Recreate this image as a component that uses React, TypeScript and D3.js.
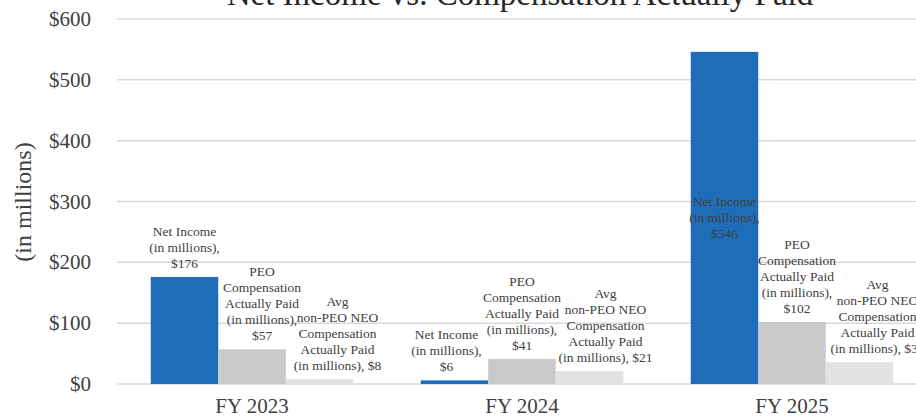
import React from "react";
import * as d3 from "d3";

const categories = ["FY 2023", "FY 2024", "FY 2025"];
const seriesNames = ["Net Income", "PEO CAP", "Avg non-PEO NEO CAP"];
const netIncome = [176, 6, 546];
const peoCap = [57, 41, 102];
const avgNeoCap = [8, 21, 36];
const yTicks = [0, 100, 200, 300, 400, 500, 600];
const title = "Net Income vs. Compensation Actually Paid";
const yAxisTitle = "(in millions)";

const seriesValues = [netIncome, peoCap, avgNeoCap];
const labelLines = [
  (v: number) => ["Net Income", "(in millions),", `$${v}`],
  (v: number) => ["PEO", "Compensation", "Actually Paid", "(in millions),", `$${v}`],
  (v: number) => ["Avg", "non-PEO NEO", "Compensation", "Actually Paid", `(in millions), $${v}`],
];
// label placement tweaks (style config, not data)
const labelNudgeX = [
  [0, -8, 0],
  [10, 0, 5],
  [18, 16, 18],
];
// FY 2025 net income label sits inside its bar, anchored at this value
const insideAnchor: (number | null)[][] = [
  [null, null, 240],
  [null, null, null],
  [null, null, null],
];

const colors = ["#1F6DB8", "#C9C9CB", "#E2E2E4"];

export default function App() {
  const W = 916;
  const H = 416;
  const font = "'Liberation Serif', 'Times New Roman', serif";
  const x0 = d3
    .scaleBand<string>()
    .domain(categories)
    .range([117, 927])
    .paddingInner(0.25)
    .paddingOuter(0.125);
  const x1 = d3
    .scaleBand<string>()
    .domain(seriesNames)
    .range([0, x0.bandwidth()])
    .padding(0);
  const y = d3.scaleLinear().domain([0, 600]).range([384, 19]);
  const lh = 16;

  return (
    <svg
      width={W}
      height={H}
      style={{ position: "absolute", left: 0, top: 0, background: "#fff" }}
      fontFamily={font}
    >
      <text x={520} y={5} textAnchor="middle" fontSize={33} fill="#262626">
        {title}
      </text>
      {yTicks.map((t) => (
        <g key={t}>
          <line x1={117} x2={W} y1={y(t)} y2={y(t)} stroke="#D9D9D9" strokeWidth={1.5} />
          <text x={91} y={y(t) + 7} textAnchor="end" fontSize={21} fill="#404040">
            ${t}
          </text>
        </g>
      ))}
      <text
        transform={`translate(31, 202) rotate(-90)`}
        textAnchor="middle"
        fontSize={24}
        fill="#404040"
      >
        {yAxisTitle}
      </text>
      {categories.map((c, ci) => (
        <g key={c} transform={`translate(${x0(c)},0)`}>
          {seriesNames.map((s, si) => {
            const v = seriesValues[si][ci];
            const bx = x1(s)!;
            const bw = x1.bandwidth();
            return (
              <rect key={s} x={bx} y={y(v)} width={bw} height={y(0) - y(v)} fill={colors[si]} />
            );
          })}
          <text x={x0.bandwidth() / 2} y={413} textAnchor="middle" fontSize={21} fill="#404040">
            {c}
          </text>
        </g>
      ))}
      {categories.map((c, ci) => (
        <g key={c + "-labels"} transform={`translate(${x0(c)},0)`}>
          {seriesNames.map((s, si) => {
            const v = seriesValues[si][ci];
            const lines = labelLines[si](v);
            const cx = x1(s)! + x1.bandwidth() / 2 + labelNudgeX[si][ci];
            const anchor = insideAnchor[si][ci];
            const lastBase = anchor != null ? y(anchor) : y(v) - 9;
            return (
              <text key={s} textAnchor="middle" fontSize={13.5} fill="#404040">
                {lines.map((ln, li) => (
                  <tspan key={li} x={cx} y={lastBase - (lines.length - 1 - li) * lh}>
                    {ln}
                  </tspan>
                ))}
              </text>
            );
          })}
        </g>
      ))}
    </svg>
  );
}
